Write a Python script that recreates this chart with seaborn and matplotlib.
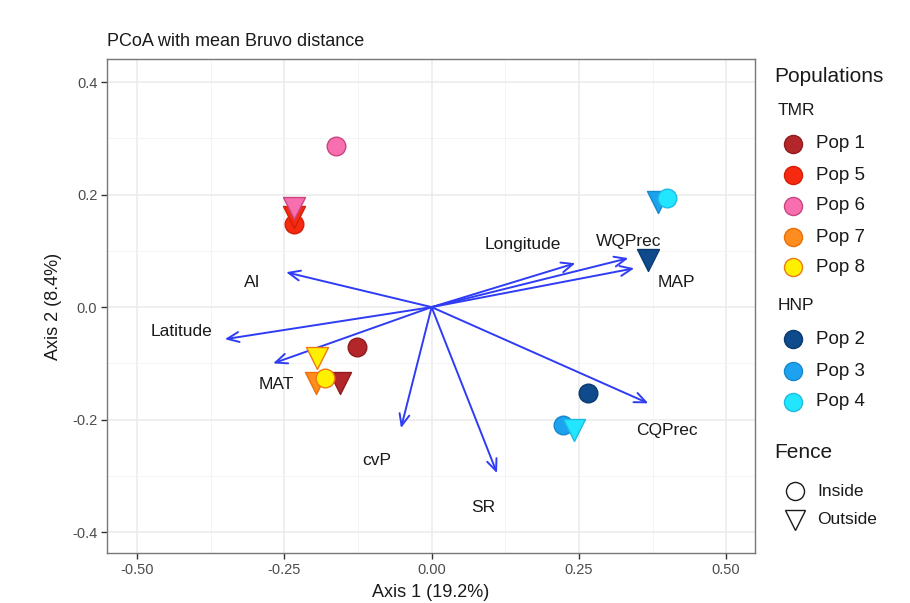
import matplotlib
matplotlib.use("Agg")
import matplotlib.pyplot as plt
from matplotlib.lines import Line2D
from matplotlib.ticker import MultipleLocator
import seaborn as sns
import pandas as pd

# PCoA scores per population and fence position
populations = ["Pop 1", "Pop 1", "Pop 2", "Pop 2", "Pop 3", "Pop 3", "Pop 4", "Pop 4",
               "Pop 5", "Pop 5", "Pop 6", "Pop 6", "Pop 7", "Pop 8", "Pop 8"]
fence = ["Inside", "Outside", "Inside", "Outside", "Inside", "Outside", "Inside", "Outside",
         "Inside", "Outside", "Inside", "Outside", "Outside", "Inside", "Outside"]
axis1 = [-0.127, -0.155, 0.266, 0.368, 0.223, 0.385, 0.400, 0.242,
         -0.233, -0.233, -0.162, -0.233, -0.196, -0.181, -0.195]
axis2 = [-0.071, -0.135, -0.153, 0.084, -0.210, 0.187, 0.194, -0.219,
         0.148, 0.161, 0.286, 0.177, -0.135, -0.126, -0.090]

# Environmental vectors (arrow tips) and their label positions
env_vars = ["Longitude", "WQPrec", "MAP", "AI", "Latitude", "MAT", "cvP", "SR", "CQPrec"]
env_x = [0.244, 0.334, 0.344, -0.247, -0.351, -0.269, -0.052, 0.111, 0.368]
env_y = [0.078, 0.087, 0.069, 0.062, -0.057, -0.100, -0.215, -0.295, -0.171]
lab_x = [0.155, 0.334, 0.416, -0.305, -0.424, -0.264, -0.093, 0.088, 0.400]
lab_y = [0.112, 0.116, 0.044, 0.043, -0.043, -0.137, -0.272, -0.357, -0.219]

groups = {"TMR": ["Pop 1", "Pop 5", "Pop 6", "Pop 7", "Pop 8"],
          "HNP": ["Pop 2", "Pop 3", "Pop 4"]}
fills = {"Pop 1": "#B3262A", "Pop 5": "#F52A10", "Pop 6": "#F76FAE",
         "Pop 7": "#FF8C1E", "Pop 8": "#FFF000",
         "Pop 2": "#0E4A8C", "Pop 3": "#1CA2EE", "Pop 4": "#22E6FF"}
edges = {"Pop 1": "#8E1C1F", "Pop 5": "#D41E08", "Pop 6": "#C9457F",
         "Pop 7": "#E8700A", "Pop 8": "#EE7A12",
         "Pop 2": "#0A3A6E", "Pop 3": "#1688CC", "Pop 4": "#1CBCE2"}
shapes = {"Inside": "o", "Outside": "v"}
marker_area = {"Inside": 180, "Outside": 250}

df = pd.DataFrame({"Population": populations, "Fence": fence,
                   "Axis1": axis1, "Axis2": axis2})

sns.set_theme(style="whitegrid")
plt.rcParams["font.family"] = ["Liberation Sans", "DejaVu Sans"]

fig = plt.figure(figsize=(9.1, 6.03), dpi=100)
ax = fig.add_axes([0.1176, 0.0829, 0.7121, 0.8193])

# vectors first, points on top
for name, x, y, lx, ly in zip(env_vars, env_x, env_y, lab_x, lab_y):
    ax.annotate("", xy=(x, y), xytext=(0, 0),
                arrowprops=dict(arrowstyle="->,head_length=0.7,head_width=0.3",
                                color="#2F3CF5", lw=1.4, shrinkA=0, shrinkB=0),
                zorder=3)
    ax.text(lx, ly, name, ha="center", va="center", fontsize=12.5,
            color="#1A1A1A", zorder=4)

for pop in sorted(df["Population"].unique(), key=lambda p: int(p.split()[1])):
    sub = df[df["Population"] == pop]
    for fc in ["Inside", "Outside"]:
        part = sub[sub["Fence"] == fc]
        if part.empty:
            continue
        sns.scatterplot(data=part, x="Axis1", y="Axis2", marker=shapes[fc],
                        color=fills[pop], edgecolor=edges[pop], linewidth=1.0,
                        s=marker_area[fc], legend=False, ax=ax, zorder=5)

ax.set_xlim(-0.551, 0.549)
ax.set_ylim(-0.437, 0.441)
ax.xaxis.set_minor_locator(MultipleLocator(0.125))
ax.yaxis.set_minor_locator(MultipleLocator(0.1))
ax.set_xticks([-0.5, -0.25, 0, 0.25, 0.5])
ax.set_xticklabels(["-0.50", "-0.25", "0.00", "0.25", "0.50"])
ax.set_yticks([-0.4, -0.2, 0, 0.2, 0.4])
ax.set_yticklabels(["-0.4", "-0.2", "0.0", "0.2", "0.4"])
ax.grid(which="major", color="#EBEBEB", lw=1.1)
ax.grid(which="minor", color="#F2F2F2", lw=0.6)
ax.set_axisbelow(True)
ax.tick_params(axis="both", which="major", length=4, width=1, color="#333333",
               labelsize=10.5, labelcolor="#4D4D4D", pad=3, bottom=True, left=True)
ax.tick_params(which="minor", length=0)
for sp in ax.spines.values():
    sp.set_color("#777777")
    sp.set_linewidth(1.0)
ax.set_facecolor("white")

ax.set_xlabel("Axis 1 (19.2%)", fontsize=13, color="#1A1A1A", labelpad=5)
ax.set_ylabel("Axis 2 (8.4%)", fontsize=13, color="#1A1A1A", labelpad=7)
ax.set_title("PCoA with mean Bruvo distance", loc="left", fontsize=13,
             color="#1A1A1A", pad=9)

# Legend: populations grouped by park, then fence shape
W, H = 910, 603

def fx(px):
    return px / W

def fy(py):
    return 1 - py / H

fig.text(fx(774), fy(76), "Populations", fontsize=15, color="#1A1A1A", va="center")
row = {"TMR": 110, "HNP": 305}
item_rows = {"Pop 1": 144, "Pop 5": 175, "Pop 6": 206, "Pop 7": 237, "Pop 8": 267,
             "Pop 2": 339, "Pop 3": 371, "Pop 4": 402}
for grp, pops in groups.items():
    fig.text(fx(778), fy(row[grp]), grp, fontsize=12.5, color="#1A1A1A", va="center")
    for pop in pops:
        fig.add_artist(Line2D([fx(793)], [fy(item_rows[pop])], marker="o",
                              markersize=13, markerfacecolor=fills[pop],
                              markeredgecolor=edges[pop], markeredgewidth=1.0,
                              linestyle="none", transform=fig.transFigure))
        fig.text(fx(816), fy(item_rows[pop]), pop, fontsize=13.5,
                 color="#1A1A1A", va="center")

fig.text(fx(774), fy(452), "Fence", fontsize=15, color="#1A1A1A", va="center")
for lab, mk, ms, py in [("Inside", "o", 13, 491), ("Outside", "v", 15, 520)]:
    fig.add_artist(Line2D([fx(795)], [fy(py)], marker=mk, markersize=ms,
                          markerfacecolor="none", markeredgecolor="#1A1A1A",
                          markeredgewidth=1.0, linestyle="none",
                          transform=fig.transFigure))
    fig.text(fx(817), fy(py), lab, fontsize=12.5, color="#1A1A1A", va="center")

fig.savefig("out.png", dpi=100, facecolor="white")
